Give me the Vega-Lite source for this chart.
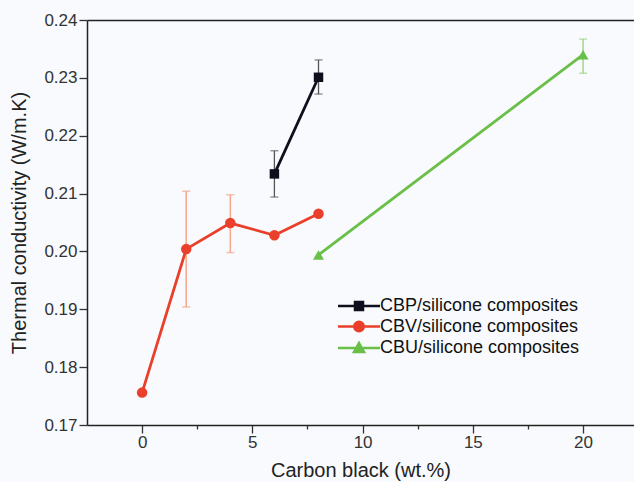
{
  "$schema": "https://vega.github.io/schema/vega-lite/v6.json",
  "autosize": {"type": "none"},
  "width": 547,
  "height": 405,
  "padding": {"left": 87, "top": 20, "right": 0, "bottom": 57},
  "background": "#f8fafd",
  "config": {
    "view": {"stroke": null},
    "font": "Liberation Sans",
    "axis": {
      "domainColor": "#222222",
      "domainWidth": 1.5,
      "tickColor": "#333333",
      "tickWidth": 1.3,
      "labelColor": "#333333",
      "titleColor": "#222222",
      "labelFont": "Liberation Sans",
      "titleFont": "Liberation Sans",
      "labelFontSize": 17,
      "titleFontSize": 20,
      "titleFontWeight": "normal"
    }
  },
  "data": {
    "values": [
      {"series": "CBP/silicone composites", "x": 6, "y": 0.2134, "lo": 0.2094, "hi": 0.2174},
      {"series": "CBP/silicone composites", "x": 8, "y": 0.2301, "lo": 0.2272, "hi": 0.2331},
      {"series": "CBV/silicone composites", "x": 0, "y": 0.1756, "lo": null, "hi": null},
      {"series": "CBV/silicone composites", "x": 2, "y": 0.2004, "lo": 0.1904, "hi": 0.2104},
      {"series": "CBV/silicone composites", "x": 4, "y": 0.2049, "lo": 0.1998, "hi": 0.2098},
      {"series": "CBV/silicone composites", "x": 6, "y": 0.2028, "lo": null, "hi": null},
      {"series": "CBV/silicone composites", "x": 8, "y": 0.2065, "lo": null, "hi": null},
      {"series": "CBU/silicone composites", "x": 8, "y": 0.1994, "lo": null, "hi": null},
      {"series": "CBU/silicone composites", "x": 20, "y": 0.2340, "lo": 0.2308, "hi": 0.2367}
    ]
  },
  "encoding": {
    "x": {
      "field": "x",
      "type": "quantitative",
      "scale": {"domain": [-2.5, 22.31], "nice": false, "zero": false},
      "axis": {
        "title": "Carbon black (wt.%)",
        "values": [0, 2.5, 5, 7.5, 10, 12.5, 15, 17.5, 20],
        "labelExpr": "datum.value % 5 === 0 ? format(datum.value, 'd') : ''",
        "ticks": true,
        "tickSize": 8,
        "tickDash": {"condition": {"test": "datum.value % 5 === 0", "value": [8, 2]}, "value": [4, 12]},
        "labelPadding": 1,
        "titlePadding": 10,
        "grid": false
      }
    }
  },
  "layer": [
    {
      "transform": [{"filter": "datum.series === 'CBP/silicone composites' && datum.lo != null"}],
      "mark": {"type": "errorbar", "color": "#555555", "thickness": 1.3, "ticks": {"size": 8}},
      "encoding": {
        "y": {"field": "lo", "type": "quantitative", "title": "Thermal conductivity (W/m.K)"},
        "y2": {"field": "hi"}
      }
    },
    {
      "transform": [{"filter": "datum.series === 'CBV/silicone composites' && datum.lo != null"}],
      "mark": {"type": "errorbar", "color": "#f5a88e", "thickness": 1.5, "ticks": {"size": 8}},
      "encoding": {
        "y": {"field": "lo", "type": "quantitative", "title": "Thermal conductivity (W/m.K)"},
        "y2": {"field": "hi"}
      }
    },
    {
      "transform": [{"filter": "datum.series === 'CBU/silicone composites' && datum.lo != null"}],
      "mark": {"type": "errorbar", "color": "#a3d68c", "thickness": 1.5, "ticks": {"size": 8}},
      "encoding": {
        "y": {"field": "lo", "type": "quantitative", "title": "Thermal conductivity (W/m.K)"},
        "y2": {"field": "hi"}
      }
    },
    {
      "mark": {"type": "line", "strokeWidth": 2.8},
      "encoding": {
        "y": {
          "field": "y",
          "type": "quantitative",
          "title": "Thermal conductivity (W/m.K)",
          "scale": {"domain": [0.17, 0.24], "nice": false, "zero": false},
          "axis": {
            "title": "Thermal conductivity (W/m.K)",
            "values": [0.17, 0.175, 0.18, 0.185, 0.19, 0.195, 0.2, 0.205, 0.21, 0.215, 0.22, 0.225, 0.23, 0.235, 0.24],
            "labelExpr": "abs(datum.value * 100 - round(datum.value * 100)) < 0.001 ? format(datum.value, '.2f') : ''",
            "ticks": true,
            "tickSize": 8,
            "tickDash": {"condition": {"test": "abs(datum.value * 100 - round(datum.value * 100)) < 0.001", "value": [8, 2]}, "value": [4, 12]},
            "labelPadding": 2,
            "titlePadding": 14,
            "grid": true,
            "gridColor": "#222222",
            "gridWidth": 1.5,
            "gridOpacity": {"condition": {"test": "datum.value > 0.2399", "value": 1}, "value": 0}
          }
        },
        "color": {
          "field": "series",
          "type": "nominal",
          "scale": {
            "domain": ["CBP/silicone composites", "CBV/silicone composites", "CBU/silicone composites"],
            "range": ["#0e0e1c", "#ea3f2a", "#69bf48"]
          },
          "legend": {
            "title": null,
            "orient": "none",
            "legendX": 263,
            "legendY": 277,
            "padding": 0,
            "labelFontSize": 18,
            "labelColor": "#111111",
            "labelFont": "Liberation Sans",
            "labelLimit": 400,
            "symbolSize": 100,
            "symbolStrokeWidth": 2.5,
            "labelOffset": 12,
            "rowPadding": 1.5,
            "encode": {
              "symbols": {
                "update": {
                  "shape": {"signal": "datum.value === 'CBP/silicone composites' ? 'M-4.2,0H4.2M-0.8,-0.8H0.8V0.8H-0.8Z' : datum.value === 'CBV/silicone composites' ? 'M-4.2,0H4.2M-0.95,0A0.95,0.95,0,1,0,0.95,0A0.95,0.95,0,1,0,-0.95,0Z' : 'M-4.2,0H4.2M0,-1L1,0.8H-1Z'"},
                  "fill": {"scale": "color", "field": "value"},
                  "stroke": {"scale": "color", "field": "value"},
                  "opacity": {"value": 1}
                }
              }
            }
          }
        }
      }
    },
    {
      "transform": [{"filter": "datum.series === 'CBP/silicone composites'"}],
      "mark": {"type": "point", "filled": true, "opacity": 1, "shape": "square", "size": 90},
      "encoding": {
        "y": {"field": "y", "type": "quantitative", "title": "Thermal conductivity (W/m.K)"},
        "color": {"field": "series", "type": "nominal"}
      }
    },
    {
      "transform": [{"filter": "datum.series === 'CBV/silicone composites'"}],
      "mark": {"type": "point", "filled": true, "opacity": 1, "shape": "circle", "size": 110},
      "encoding": {
        "y": {"field": "y", "type": "quantitative", "title": "Thermal conductivity (W/m.K)"},
        "color": {"field": "series", "type": "nominal"}
      }
    },
    {
      "transform": [{"filter": "datum.series === 'CBU/silicone composites'"}],
      "mark": {"type": "point", "filled": true, "opacity": 1, "shape": "triangle-up", "size": 120},
      "encoding": {
        "y": {"field": "y", "type": "quantitative", "title": "Thermal conductivity (W/m.K)"},
        "color": {"field": "series", "type": "nominal"}
      }
    }
  ]
}
